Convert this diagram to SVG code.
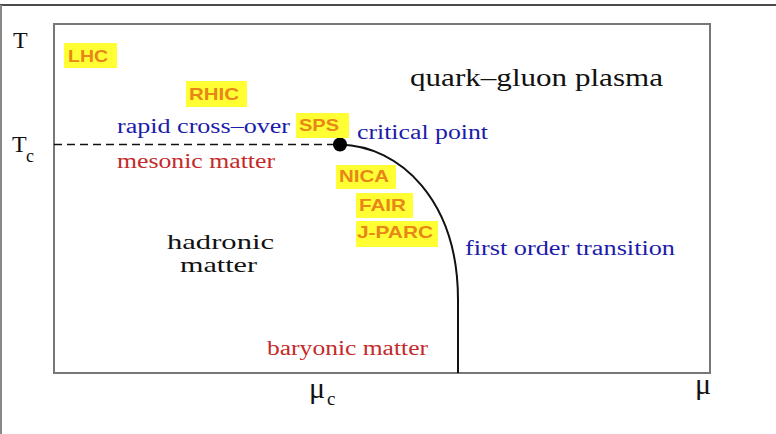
<svg xmlns="http://www.w3.org/2000/svg" width="776" height="434" viewBox="0 0 776 434">
<style>
.serif{font-family:"Liberation Serif","DejaVu Serif",serif;}
.lab{font-family:"Liberation Serif","DejaVu Serif",serif;font-size:20px;}
.blue{fill:#1c1caa;}
.red{fill:#c42a2a;}
.black{fill:#111;}
.tag rect{fill:#ffff33;}
.tag text{font-family:"Liberation Sans","DejaVu Sans",sans-serif;font-size:17px;font-weight:bold;fill:#e8861a;}
</style>
<rect width="776" height="434" fill="#ffffff"/>
<line x1="0" y1="5" x2="776" y2="5" stroke="#111" stroke-width="1.5"/>
<line x1="1" y1="5" x2="1" y2="434" stroke="#888" stroke-width="2"/>
<g id="axes">
<rect x="54" y="24" width="656" height="349" fill="none" stroke="#777" stroke-width="2"/>
<text class="serif black" x="13" y="48" font-size="24">T</text>
<text class="serif black" x="12" y="152" font-size="24">T</text>
<text class="serif black" x="26" y="162" font-size="18">c</text>
<text class="serif black" x="309" y="398" font-size="30">μ</text>
<text class="serif black" x="327" y="405" font-size="19">c</text>
<text class="serif black" x="695" y="394" font-size="30">μ</text>
</g>
<g id="connectors">
<line x1="54" y1="144.5" x2="340" y2="144.5" stroke="#111" stroke-width="1.7" stroke-dasharray="8 5"/>
<path d="M340,144.5 C400,146 458,200 458,300 L458,373" fill="none" stroke="#111" stroke-width="2"/>
</g>
<g id="critical-point"><circle cx="340" cy="144.5" r="7" fill="#000"/></g>
<g id="LHC" class="tag"><rect x="64" y="43" width="53" height="25"/><text x="68" y="62" textLength="40" lengthAdjust="spacingAndGlyphs">LHC</text></g>
<g id="RHIC" class="tag"><rect x="186" y="81" width="61" height="26"/><text x="189" y="100" textLength="50" lengthAdjust="spacingAndGlyphs">RHIC</text></g>
<g id="SPS" class="tag"><rect x="296" y="113" width="53" height="25"/><text x="299" y="131" textLength="40" lengthAdjust="spacingAndGlyphs">SPS</text></g>
<g id="NICA" class="tag"><rect x="336" y="165" width="60" height="24"/><text x="339" y="182" textLength="50" lengthAdjust="spacingAndGlyphs">NICA</text></g>
<g id="FAIR" class="tag"><rect x="356" y="193" width="57" height="25"/><text x="359" y="211" textLength="47" lengthAdjust="spacingAndGlyphs">FAIR</text></g>
<g id="J-PARC" class="tag"><rect x="356" y="221" width="82" height="26"/><text x="357" y="238" textLength="76" lengthAdjust="spacingAndGlyphs">J-PARC</text></g>
<g id="qgp"><text class="serif black" x="410" y="86" font-size="25" textLength="253" lengthAdjust="spacingAndGlyphs">quark–gluon plasma</text></g>
<g id="rapid"><text class="lab blue" x="117" y="133" textLength="173" lengthAdjust="spacingAndGlyphs">rapid cross–over</text></g>
<g id="critical"><text class="lab blue" x="357" y="139" textLength="131" lengthAdjust="spacingAndGlyphs">critical point</text></g>
<g id="mesonic"><text class="lab red" x="117" y="168" textLength="158" lengthAdjust="spacingAndGlyphs">mesonic matter</text></g>
<g id="hadronic"><text class="serif black" font-size="22" x="167" y="249" textLength="107" lengthAdjust="spacingAndGlyphs">hadronic</text><text class="serif black" font-size="22" x="180" y="272" textLength="77" lengthAdjust="spacingAndGlyphs">matter</text></g>
<g id="first-order"><text class="lab blue" x="465" y="255" textLength="210" lengthAdjust="spacingAndGlyphs">first order transition</text></g>
<g id="baryonic"><text class="lab red" x="267" y="355" textLength="161" lengthAdjust="spacingAndGlyphs">baryonic matter</text></g>
</svg>
